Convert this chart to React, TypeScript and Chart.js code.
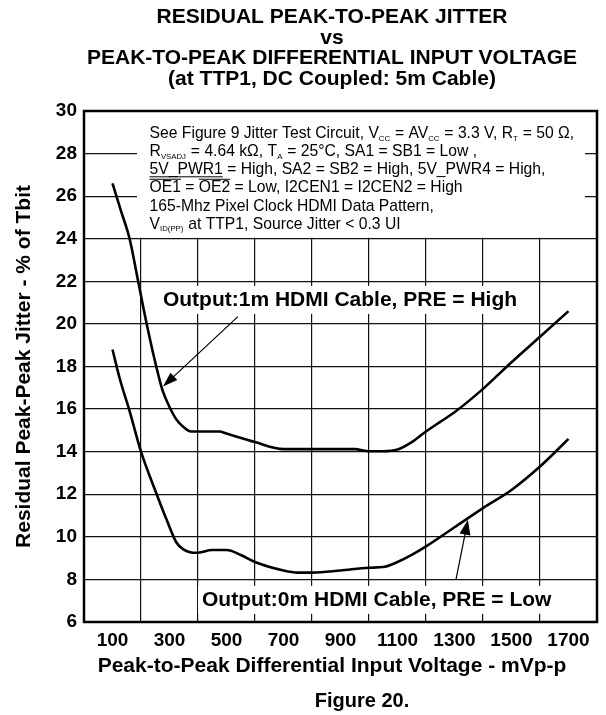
import React, { useEffect, useRef } from 'react';
import { Chart, registerables } from 'chart.js';

Chart.register(...registerables);

const FONT = '"Liberation Sans", Arial, Helvetica, sans-serif';

// ---- text ----
const titleLines = [
  'RESIDUAL PEAK-TO-PEAK JITTER',
  'vs',
  'PEAK-TO-PEAK DIFFERENTIAL INPUT VOLTAGE',
  '(at TTP1, DC Coupled: 5m Cable)',
];
const captionText = 'Figure 20.';
const xAxisTitle = 'Peak-to-Peak Differential Input Voltage - mVp-p';
const yAxisTitle = 'Residual Peak-Peak Jitter - % of Tbit';
const highLabel = 'Output:1m HDMI Cable, PRE = High';
const lowLabel = 'Output:0m HDMI Cable, PRE = Low';

// ---- ticks ----
const xTickLabels = [100, 300, 500, 700, 900, 1100, 1300, 1500, 1700];
const xGridValues = [200, 400, 600, 800, 1000, 1200, 1400, 1600];
const yTickValues = [6, 8, 10, 12, 14, 16, 18, 20, 22, 24, 26, 28, 30];

// ---- series: Output 1m HDMI cable, PRE = High ----
const highVoltage = [100, 130, 160, 190, 220, 250, 275, 300, 325, 350, 375, 400, 475, 500, 600, 700, 800, 900, 950, 1000, 1050, 1100, 1150, 1200, 1250, 1300, 1400, 1500, 1600, 1700];
const highJitter = [26.6, 25.3, 24.0, 22.0, 20.0, 18.2, 16.9, 16.1, 15.5, 15.15, 14.95, 14.95, 14.95, 14.85, 14.45, 14.12, 14.12, 14.12, 14.12, 14.02, 14.02, 14.1, 14.45, 14.95, 15.4, 15.85, 16.95, 18.2, 19.4, 20.6];

// ---- series: Output 0m HDMI cable, PRE = Low ----
const lowVoltage = [100, 126, 158, 200, 255, 290, 325, 350, 372, 395, 450, 500, 550, 600, 700, 750, 800, 900, 1000, 1050, 1100, 1150, 1200, 1300, 1400, 1500, 1600, 1700];
const lowJitter = [18.8, 17.4, 16.0, 14.0, 12.0, 10.8, 9.72, 9.4, 9.28, 9.25, 9.38, 9.38, 9.15, 8.82, 8.42, 8.32, 8.32, 8.42, 8.55, 8.58, 8.82, 9.15, 9.55, 10.45, 11.35, 12.2, 13.3, 14.6];

// ---- condition note (rich text) ----
type Seg = { t: string; sub?: boolean; over?: boolean; under?: boolean };
const noteLines: Seg[][] = [
  [{ t: 'See Figure 9 Jitter Test Circuit, V' }, { t: 'CC', sub: true }, { t: ' = AV' }, { t: 'CC', sub: true }, { t: ' = 3.3 V, R' }, { t: 'T', sub: true }, { t: ' = 50 Ω,' }],
  [{ t: 'R' }, { t: 'VSADJ', sub: true }, { t: ' = 4.64 kΩ, T' }, { t: 'A', sub: true }, { t: ' = 25°C, SA1 = SB1 = Low ,' }],
  [{ t: '5V_PWR1', under: true }, { t: ' = High, SA2 = SB2 = High, 5V_PWR4 = High,' }],
  [{ t: 'OE1', over: true }, { t: ' = ' }, { t: 'OE2', over: true }, { t: ' = Low, I2CEN1 = I2CEN2 = High' }],
  [{ t: '165-Mhz Pixel Clock HDMI Data Pattern,' }],
  [{ t: 'V' }, { t: 'ID(PP)', sub: true }, { t: ' at TTP1, Source Jitter < 0.3 UI' }],
];

// ---- annotation placement (data units) ----
const noteBox = { x0: 186, x1: 1758, yBottom: 24, textX: 230 };
const highLabelPos = { x: 277, y: 21.13 };
const lowLabelPos = { x: 414, y: 7.04 };
const highArrow = { x0: 540, y0: 20.34, x1: 277, y1: 17.06 };
const lowArrow = { x0: 1305, y0: 7.98, x1: 1347, y1: 10.8 };

function drawArrow(ctx: CanvasRenderingContext2D, x1: number, y1: number, x2: number, y2: number, len: number, wid: number) {
  const a = Math.atan2(y2 - y1, x2 - x1);
  const c = Math.cos(a), s = Math.sin(a);
  ctx.beginPath();
  ctx.moveTo(x1, y1);
  ctx.lineTo(x2 - c * len * 0.8, y2 - s * len * 0.8);
  ctx.lineWidth = 1.2;
  ctx.strokeStyle = '#000';
  ctx.stroke();
  ctx.beginPath();
  ctx.moveTo(x2, y2);
  ctx.lineTo(x2 - len * c + (wid / 2) * s, y2 - len * s - (wid / 2) * c);
  ctx.lineTo(x2 - len * c - (wid / 2) * s, y2 - len * s + (wid / 2) * c);
  ctx.closePath();
  ctx.fillStyle = '#000';
  ctx.fill();
}

function drawRich(ctx: CanvasRenderingContext2D, segs: Seg[], x: number, y: number, size: number) {
  let cx = x;
  ctx.textBaseline = 'alphabetic';
  ctx.textAlign = 'left';
  for (const s of segs) {
    if (s.sub) {
      ctx.font = `${(size * 0.5).toFixed(1)}px ${FONT}`;
      ctx.fillText(s.t, cx, y + 2.5);
      cx += ctx.measureText(s.t).width + 0.5;
      continue;
    }
    ctx.font = `${size}px ${FONT}`;
    const w = ctx.measureText(s.t).width;
    ctx.fillText(s.t, cx, y);
    ctx.lineWidth = 1;
    if (s.over) {
      ctx.beginPath();
      ctx.moveTo(cx, y - size * 0.84);
      ctx.lineTo(cx + w, y - size * 0.84);
      ctx.stroke();
    }
    if (s.under) {
      ctx.beginPath();
      ctx.moveTo(cx, y + 2.5);
      ctx.lineTo(cx + w, y + 2.5);
      ctx.stroke();
    }
    cx += w;
  }
}

const annotationPlugin = {
  id: 'figureAnnotations',
  beforeDatasetsDraw(chart: any) {
    const { ctx, chartArea, scales } = chart;
    const x = scales.x, y = scales.y;
    ctx.save();
    ctx.fillStyle = '#fff';
    // note box
    const bx0 = x.getPixelForValue(noteBox.x0);
    const bx1 = x.getPixelForValue(noteBox.x1);
    const by1 = y.getPixelForValue(noteBox.yBottom) - 1;
    ctx.fillRect(bx0, chartArea.top + 1, bx1 - bx0, by1 - chartArea.top - 1);
    // label backgrounds
    ctx.font = `bold 21px ${FONT}`;
    for (const [txt, p] of [[highLabel, highLabelPos], [lowLabel, lowLabelPos]] as [string, { x: number; y: number }][]) {
      const w = ctx.measureText(txt).width;
      const px = x.getPixelForValue(p.x);
      const py = y.getPixelForValue(p.y);
      ctx.fillRect(px - 4, py - 14, w + 8, 28);
    }
    ctx.restore();
  },
  afterDatasetsDraw(chart: any) {
    const { ctx, chartArea, scales } = chart;
    const x = scales.x, y = scales.y;
    ctx.save();
    // frame
    ctx.strokeStyle = '#000';
    ctx.lineWidth = 2.5;
    ctx.strokeRect(chartArea.left, chartArea.top, chartArea.right - chartArea.left, chartArea.bottom - chartArea.top);
    // note text
    ctx.fillStyle = '#000';
    ctx.strokeStyle = '#000';
    const tx = x.getPixelForValue(noteBox.textX);
    noteLines.forEach((segs, i) => drawRich(ctx, segs, tx, chartArea.top + 27 + i * 18.15, 15.7));
    // labels
    ctx.font = `bold 21px ${FONT}`;
    ctx.textAlign = 'left';
    ctx.textBaseline = 'middle';
    ctx.fillText(highLabel, x.getPixelForValue(highLabelPos.x), y.getPixelForValue(highLabelPos.y));
    ctx.fillText(lowLabel, x.getPixelForValue(lowLabelPos.x), y.getPixelForValue(lowLabelPos.y));
    // arrows
    drawArrow(ctx, x.getPixelForValue(highArrow.x0), y.getPixelForValue(highArrow.y0), x.getPixelForValue(highArrow.x1), y.getPixelForValue(highArrow.y1), 15, 10);
    drawArrow(ctx, x.getPixelForValue(lowArrow.x0), y.getPixelForValue(lowArrow.y0), x.getPixelForValue(lowArrow.x1), y.getPixelForValue(lowArrow.y1), 15, 11);
    ctx.restore();
  },
  afterDraw(chart: any) {
    const { ctx, chartArea } = chart;
    ctx.save();
    ctx.fillStyle = '#000';
    ctx.textAlign = 'center';
    ctx.textBaseline = 'middle';
    ctx.font = `bold 21px ${FONT}`;
    titleLines.forEach((t, i) => ctx.fillText(t, 332, 17.5 + i * 20.5));
    ctx.fillText(xAxisTitle, 332, chartArea.bottom + 44);
    ctx.font = `bold 20px ${FONT}`;
    ctx.fillText(captionText, 362, 701);
    ctx.restore();
  },
};

export default function App() {
  const ref = useRef<HTMLCanvasElement | null>(null);
  useEffect(() => {
    document.body.style.margin = '0';
    const canvas = ref.current;
    if (!canvas) return;
    const chart = new Chart(canvas, {
      type: 'line',
      data: {
        datasets: [
          {
            label: highLabel,
            data: highVoltage.map((v, i) => ({ x: v, y: highJitter[i] })),
            borderColor: '#000',
            borderWidth: 2.6,
            pointRadius: 0,
            fill: false,
            cubicInterpolationMode: 'monotone',
          },
          {
            label: lowLabel,
            data: lowVoltage.map((v, i) => ({ x: v, y: lowJitter[i] })),
            borderColor: '#000',
            borderWidth: 2.6,
            pointRadius: 0,
            fill: false,
            cubicInterpolationMode: 'monotone',
          },
        ],
      },
      options: {
        responsive: false,
        animation: false,
        layout: { padding: { top: 111, left: 0, right: 9, bottom: 33 } },
        plugins: {
          legend: { display: false },
          title: { display: false },
          tooltip: { enabled: false },
        },
        scales: {
          x: {
            type: 'linear',
            min: 0,
            max: 1800,
            afterFit: (s: any) => { s.height = 60; },
            border: { display: false },
            grid: {
              drawTicks: false,
              lineWidth: 1.2,
              color: (c: any) => (xGridValues.includes(c.tick?.value) ? '#111' : 'rgba(0,0,0,0)'),
            },
            ticks: {
              stepSize: 100,
              autoSkip: false,
              maxRotation: 0,
              padding: 7,
              color: '#000',
              font: { family: FONT, size: 19, weight: 'bold' },
              callback: (v: any) => (xTickLabels.includes(Number(v)) ? String(v) : ''),
            },
            title: { display: false },
          },
          y: {
            type: 'linear',
            min: 6,
            max: 30,
            afterFit: (s: any) => { s.width = 84; },
            afterBuildTicks: (s: any) => { s.ticks = yTickValues.map((v) => ({ value: v })); },
            border: { display: false },
            grid: { drawTicks: false, lineWidth: 1.2, color: '#111' },
            ticks: {
              padding: 7,
              color: '#000',
              font: { family: FONT, size: 19, weight: 'bold' },
            },
            title: {
              display: true,
              text: yAxisTitle,
              color: '#000',
              font: { family: FONT, size: 21, weight: 'bold', lineHeight: 1 },
              padding: { top: 14, bottom: 0 },
            },
          },
        },
      },
      plugins: [annotationPlugin],
    } as any);
    return () => chart.destroy();
  }, []);
  return <canvas ref={ref} width={606} height={715} style={{ display: 'block', width: 606, height: 715 }} />;
}
